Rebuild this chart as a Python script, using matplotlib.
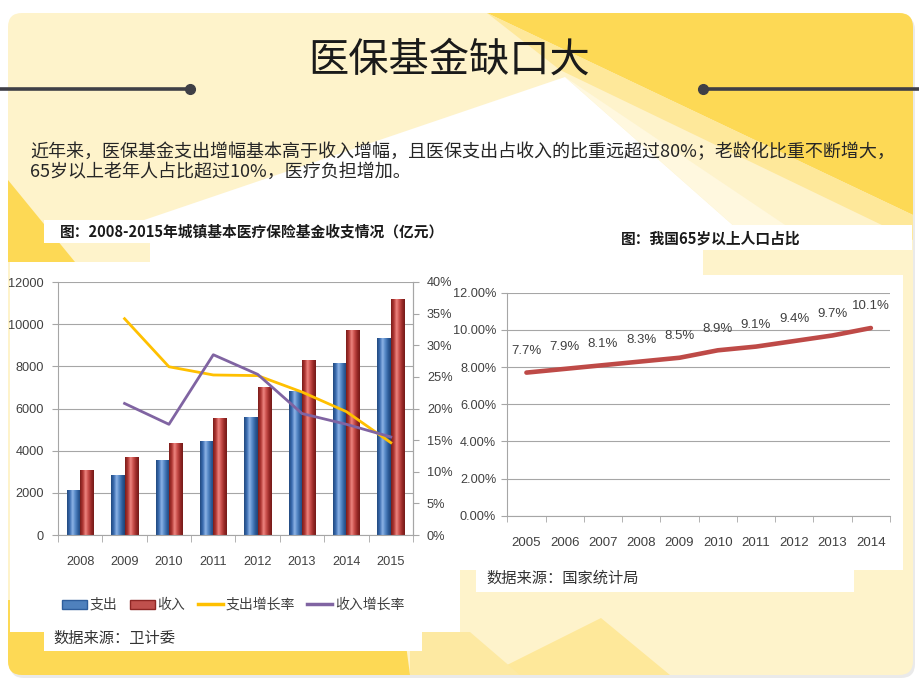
import matplotlib
matplotlib.use('Agg')
import matplotlib.pyplot as plt
import numpy as np
from matplotlib.patches import FancyBboxPatch, Polygon, Rectangle, Patch
from matplotlib.lines import Line2D
from matplotlib.colors import LinearSegmentedColormap
from matplotlib import font_manager as fm

# ---------------- data ----------------
years_left = ['2008', '2009', '2010', '2011', '2012', '2013', '2014', '2015']
expense = [2130, 2840, 3580, 4480, 5600, 6840, 8160, 9360]
income = [3080, 3680, 4360, 5570, 7000, 8290, 9710, 11210]
expense_growth = [np.nan, 34.2, 26.6, 25.3, 25.2, 22.6, 19.5, 14.6]
income_growth = [np.nan, 20.8, 17.5, 28.5, 25.4, 19.2, 17.5, 15.5]
left_yticks = [0, 2000, 4000, 6000, 8000, 10000, 12000]
left_y2ticks = [0, 5, 10, 15, 20, 25, 30, 35, 40]
legend_labels = ['支出', '收入', '支出增长率', '收入增长率']

years_right = ['2005', '2006', '2007', '2008', '2009', '2010', '2011', '2012', '2013', '2014']
elderly_share = [7.7, 7.9, 8.1, 8.3, 8.5, 8.9, 9.1, 9.4, 9.7, 10.1]
elderly_labels = ['7.7%', '7.9%', '8.1%', '8.3%', '8.5%', '8.9%', '9.1%', '9.4%', '9.7%', '10.1%']
right_yticks = [0, 2, 4, 6, 8, 10, 12]

title = '医保基金缺口大'
para1 = '近年来，医保基金支出增幅基本高于收入增幅，且医保支出占收入的比重远超过80%；老龄化比重不断增大，'
para2 = '65岁以上老年人占比超过10%，医疗负担增加。'
left_title = '图：2008-2015年城镇基本医疗保险基金收支情况（亿元）'
right_title = '图：我国65岁以上人口占比'
left_source = '数据来源：卫计委'
right_source = '数据来源：国家统计局'

# ---------------- fonts ----------------
names = {f.name for f in fm.fontManager.ttflist}
NUM = 'Liberation Sans Narrow' if 'Liberation Sans Narrow' in names else 'Liberation Sans'
CJK = 'Noto Sans CJK SC'
plt.rcParams['font.family'] = [CJK, 'DejaVu Sans']
num_fam = [NUM, CJK]
NUMSIZE = 9.2

W, H = 920, 690
fig = plt.figure(figsize=(9.2, 6.9), dpi=100)
fig.patch.set_facecolor('white')

def fx(px):
    return px / W

def fy(py):
    return 1 - py / H

# ---------------- background ----------------
bg = fig.add_axes([0, 0, 1, 1])
bg.set_xlim(0, W)
bg.set_ylim(H, 0)
bg.axis('off')
bg.set_zorder(-5)

PALE = '#FEF3CB'
GOLD = '#FDD955'
MID = '#FEE89A'

shadow = FancyBboxPatch((10, 16), 905, 662, boxstyle='round,pad=0,rounding_size=14',
                        fc='#DCDCDC', ec='none', alpha=0.6)
bg.add_patch(shadow)
frame = FancyBboxPatch((8, 13), 905, 662, boxstyle='round,pad=0,rounding_size=14',
                       fc=PALE, ec='none')
bg.add_patch(frame)

def poly(pts, color, z=1, alpha=1.0):
    p = Polygon(pts, closed=True, fc=color, ec='none', zorder=z, alpha=alpha)
    bg.add_patch(p)
    p.set_clip_path(frame)
    return p

poly([(487, 13), (913, 13), (913, 215)], GOLD)
poly([(487, 13), (913, 215), (913, 240), (560, 70)], MID)
poly([(565, 77), (100, 235), (744, 235)], 'white')
poly([(565, 77), (744, 235), (800, 235)], '#FFF8DF')
poly([(8, 180), (8, 262), (75, 262)], GOLD)
poly([(8, 600), (400, 600), (410, 675), (8, 675)], GOLD)
poly([(601, 618), (487, 675), (670, 675)], MID)
poly([(410, 632), (470, 632), (520, 675), (410, 675)], '#FDE9A2')

def wrect(x0, y0, x1, y1):
    r = Rectangle((x0, y0), x1 - x0, y1 - y0, fc='white', ec='none', zorder=3)
    bg.add_patch(r)

wrect(10, 262, 460, 632)
wrect(44, 220, 448, 243)
wrect(150, 243, 460, 262)
wrect(44, 632, 422, 651)
wrect(440, 225, 912, 250)
wrect(440, 250, 703, 275)
wrect(440, 275, 903, 570)
wrect(476, 570, 854, 592)

# decorative lines with dots
bg.plot([0, 190], [89, 89], color='#3F3F46', lw=2.6, zorder=4, solid_capstyle='butt')
bg.plot([190], [89], 'o', color='#3F3F46', ms=7, zorder=4)
bg.plot([703, 920], [89, 89], color='#3F3F46', lw=2.6, zorder=4, solid_capstyle='butt')
bg.plot([703], [89], 'o', color='#3F3F46', ms=7, zorder=4)

# ---------------- texts ----------------
fig.text(fx(449), fy(60), title, ha='center', va='center', fontsize=29, color='#1A1A1A',
         fontweight='light')
fig.text(fx(30), fy(152), para1, ha='left', va='center', fontsize=13, color='#262626',
         fontweight='light')
fig.text(fx(30), fy(172), para2, ha='left', va='center', fontsize=13, color='#262626',
         fontweight='light')
fig.text(fx(60), fy(231), left_title, ha='left', va='center', fontsize=10.6,
         fontweight='bold', color='#1A1A1A')
fig.text(fx(711), fy(239), right_title, ha='center', va='center', fontsize=10.6,
         fontweight='bold', color='#1A1A1A')
fig.text(fx(53), fy(638), left_source, ha='left', va='center', fontsize=11, color='#333333')
fig.text(fx(486), fy(578), right_source, ha='left', va='center', fontsize=11, color='#333333')

GRID = '#A6A6A6'
TXT = '#404040'

# ---------------- left chart ----------------
ax1 = fig.add_axes([fx(58), fy(535), 355 / W, 253 / H])
ax1.set_facecolor('none')
x = np.arange(len(years_left))
bw = 0.3
blue_cmap = LinearSegmentedColormap.from_list(
    'b', ['#22497F', '#3A6CB0', '#8DB3E6', '#5487C6', '#2F5E9C', '#1E4478'])
red_cmap = LinearSegmentedColormap.from_list(
    'r', ['#7A1C1A', '#AF3733', '#EE8580', '#C94F4B', '#9A2A27', '#741A18'])
b1 = ax1.bar(x - bw / 2, expense, bw, color='#4F81BD', zorder=2)
b2 = ax1.bar(x + bw / 2, income, bw, color='#C0504D', zorder=2)
g = np.linspace(0, 1, 64).reshape(1, -1)
for bars, cm in ((b1, blue_cmap), (b2, red_cmap)):
    for b in bars:
        x0, w, h = b.get_x(), b.get_width(), b.get_height()
        im = ax1.imshow(g, extent=[x0, x0 + w, 0, h], aspect='auto', cmap=cm,
                        zorder=2.5, interpolation='bilinear')
        im.set_clip_path(b)
ax1.set_aspect('auto')
ax1.set_xlim(-0.5, len(years_left) - 0.5)
ax1.set_ylim(0, 12000)
ax1.set_yticks(left_yticks)
ax1.set_yticklabels([str(v) for v in left_yticks], family=num_fam, fontsize=NUMSIZE, color=TXT)
ax1.yaxis.grid(True, color=GRID, lw=0.8)
ax1.set_axisbelow(True)
ax1.set_xticks(x)
ax1.set_xticklabels(years_left, family=num_fam, fontsize=NUMSIZE, color=TXT)
ax1.set_xticks(np.arange(-0.5, len(years_left), 1), minor=True)
ax1.tick_params(axis='x', which='major', length=0, pad=15)
ax1.tick_params(axis='x', which='minor', length=5, color=GRID, direction='out')
ax1.tick_params(axis='y', length=4, color=GRID, pad=6)
for s in ['left', 'right', 'bottom']:
    ax1.spines[s].set_color(GRID)
ax1.spines['top'].set_visible(False)

ax1b = ax1.twinx()
ax1b.set_facecolor('none')
ax1b.plot(x, expense_growth, color='#FFC000', lw=2.0, zorder=4)
ax1b.plot(x, income_growth, color='#8064A2', lw=2.0, zorder=4)
ax1b.set_ylim(0, 40)
ax1b.set_yticks(left_y2ticks)
ax1b.set_yticklabels([f'{v}%' for v in left_y2ticks], family=num_fam, fontsize=NUMSIZE, color=TXT)
ax1b.tick_params(axis='y', length=4, color=GRID, pad=6)
for s in ['left', 'top', 'bottom']:
    ax1b.spines[s].set_visible(False)
ax1b.spines['right'].set_color(GRID)

handles = [Patch(fc='#4F81BD', ec='#2F5E9C'), Patch(fc='#C0504D', ec='#8E2624'),
           Line2D([], [], color='#FFC000', lw=2.5), Line2D([], [], color='#8064A2', lw=2.5)]
fig.legend(handles, legend_labels, loc='center', bbox_to_anchor=(fx(233), fy(605)),
           ncol=4, frameon=False, fontsize=10, handlelength=1.8, handleheight=0.6,
           handletextpad=0.2, columnspacing=0.9, labelcolor=TXT)

# ---------------- right chart ----------------
ax2 = fig.add_axes([fx(507.3), fy(515.7), 382.7 / W, 223 / H])
ax2.set_facecolor('none')
x2 = np.arange(len(years_right))
ax2.plot(x2, elderly_share, color='#BE4A47', lw=3.3, solid_capstyle='round', zorder=3)
for xi, v, lab in zip(x2, elderly_share, elderly_labels):
    ax2.annotate(lab, (xi, v), xytext=(0, 15.5), textcoords='offset points',
                 ha='center', va='center', family=num_fam, fontsize=NUMSIZE + 0.3, color=TXT)
ax2.set_xlim(-0.5, len(years_right) - 0.5)
ax2.set_ylim(0, 12)
ax2.set_yticks(right_yticks)
ax2.set_yticklabels([f'{v:.2f}%' for v in right_yticks], family=num_fam, fontsize=NUMSIZE, color=TXT)
ax2.yaxis.grid(True, color=GRID, lw=0.8)
ax2.set_axisbelow(True)
ax2.set_xticks(x2)
ax2.set_xticklabels(years_right, family=num_fam, fontsize=NUMSIZE + 0.3, color=TXT)
ax2.set_xticks(np.arange(-0.5, len(years_right), 1), minor=True)
ax2.tick_params(axis='x', which='major', length=0, pad=15)
ax2.tick_params(axis='x', which='minor', length=4, color=GRID, direction='out')
ax2.tick_params(axis='y', length=4, color=GRID, pad=4)
ax2.spines['left'].set_color(GRID)
ax2.spines['bottom'].set_color(GRID)
ax2.spines['top'].set_visible(False)
ax2.spines['right'].set_visible(False)

fig.savefig('out.png', dpi=100)
